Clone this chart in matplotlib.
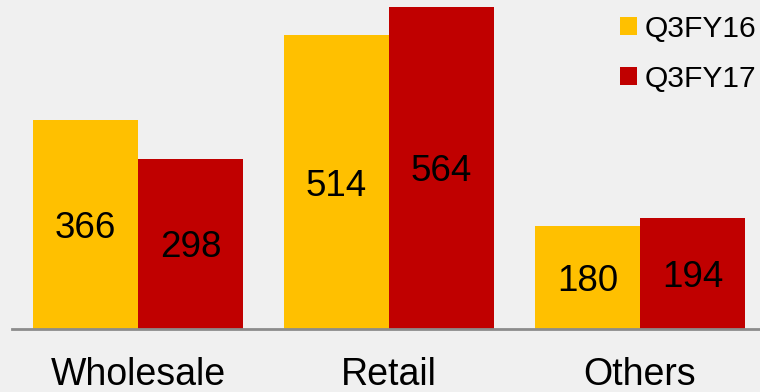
import matplotlib.pyplot as plt
import numpy as np

categories = ['Wholesale', 'Retail', 'Others']
q3fy16 = [366, 514, 180]
q3fy17 = [298, 564, 194]
series_names = ['Q3FY16', 'Q3FY17']
colors = ['#FFC000', '#C00000']

plt.rcParams['font.family'] = ['Liberation Sans', 'DejaVu Sans']

fig = plt.figure(figsize=(7.6, 3.92), dpi=100)
fig.patch.set_facecolor('#F0F0F0')
ax = fig.add_axes([12/760, 1 - 329/392, 748/760, 329/392])
ax.set_facecolor('none')

x = np.arange(len(categories))
w = 0.418
b1 = ax.bar(x - w/2, q3fy16, w, color=colors[0], label=series_names[0])
b2 = ax.bar(x + w/2, q3fy17, w, color=colors[1], label=series_names[1])

for bars, vals in [(b1, q3fy16), (b2, q3fy17)]:
	for bar, v in zip(bars, vals):
		ax.text(bar.get_x() + bar.get_width()/2, v/2, str(v), ha='center', va='center_baseline',
			fontsize=26.5, color='black')

ax.set_xlim(-0.502, 2.478)
ax.set_ylim(0, 576)
for s in ['top', 'right', 'left']:
	ax.spines[s].set_visible(False)
ax.spines['bottom'].set_color('#8C8C8C')
ax.spines['bottom'].set_linewidth(2)
ax.set_yticks([])
ax.set_xticks(x)
ax.set_xticklabels(categories, fontsize=27)
ax.tick_params(axis='x', length=0, pad=20)

leg = ax.legend(loc='upper right', bbox_to_anchor=(1.015, 1.0), fontsize=21.6, frameon=False,
	handlelength=0.55, handleheight=0.55, handletextpad=0.25, labelspacing=0.72, borderaxespad=0.1)

plt.savefig('out.png', dpi=100, facecolor=fig.get_facecolor())
